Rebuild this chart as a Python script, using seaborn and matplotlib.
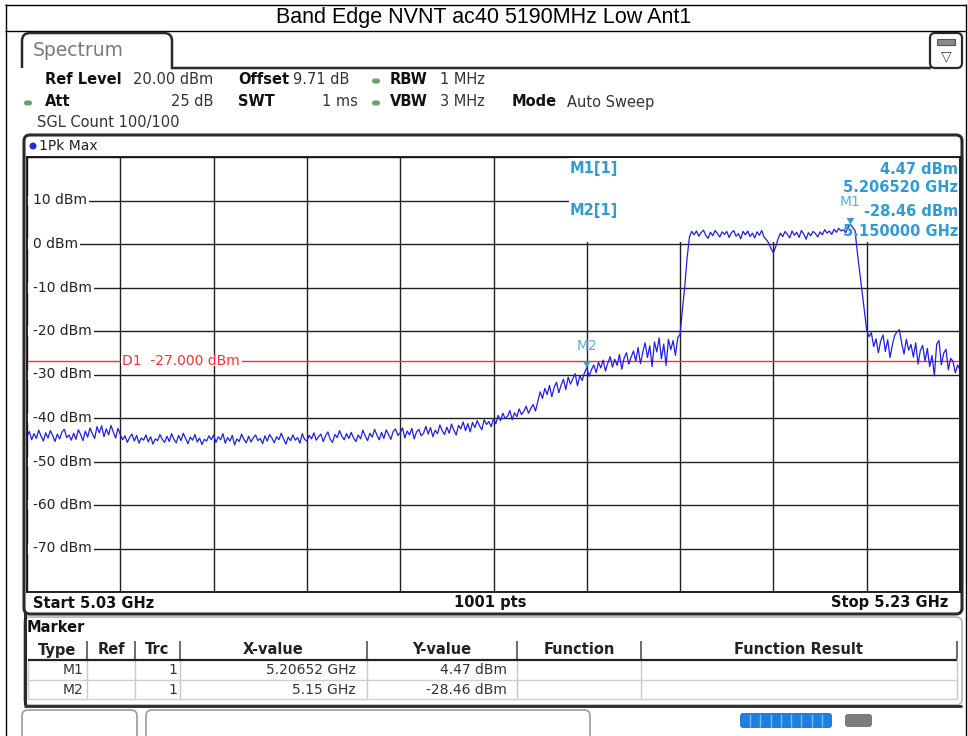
import numpy as np
import pandas as pd
import matplotlib
matplotlib.use("Agg")
import matplotlib.pyplot as plt
import seaborn as sns
from matplotlib.patches import FancyBboxPatch, Rectangle, Ellipse, PathPatch
from matplotlib.path import Path
from matplotlib.markers import MarkerStyle

# ---------------------------------------------------------------- data
title = "Band Edge NVNT ac40 5190MHz Low Ant1"
start_ghz, stop_ghz = 5.03, 5.23

# 1Pk Max trace, one reading per 0.5 MHz from 5.030 to 5.230 GHz (dBm)
trace_dbm = [
    # 5.030 - 5.040
    -44.2, -43.1, -45.0, -43.6, -44.7, -42.8, -44.1, -45.3, -43.4, -44.6,
    -42.9, -44.0, -45.4, -43.7, -44.8, -43.2, -42.6, -44.5, -43.9, -45.1,
    # 5.040 - 5.050
    -43.5, -44.9, -42.7, -43.8, -45.2, -43.0, -44.4, -42.3, -43.6, -44.7,
    -42.0, -43.4, -41.8, -44.3, -42.5, -43.9, -41.7, -43.2, -44.6, -42.4,
    # 5.050 - 5.060
    -43.8, -45.0, -44.1, -45.6, -44.5, -43.7, -45.3, -44.0, -45.8, -44.6,
    -45.1, -43.9, -45.5, -44.3, -46.0, -44.8, -45.2, -43.8, -44.9, -45.6,
    # 5.060 - 5.070
    -44.2, -45.4, -43.6, -44.9, -45.7, -44.0, -45.2, -43.5, -44.7, -45.9,
    -44.4, -45.1, -43.8, -45.5, -44.6, -46.1, -44.9, -45.3, -44.1, -45.0,
    # 5.070 - 5.080
    -43.9, -45.6, -44.3, -45.0, -43.6, -45.8, -44.5, -45.3, -44.0, -46.2,
    -44.8, -45.4, -43.7, -44.9, -45.7, -44.2, -45.5, -44.6, -43.9, -45.2,
    # 5.080 - 5.090
    -44.7, -45.9, -44.1, -45.3, -43.8, -44.6, -45.7, -44.3, -45.0, -43.5,
    -44.8, -46.0, -44.4, -45.2, -43.9, -45.1, -44.5, -45.8, -43.6, -44.9,
    # 5.090 - 5.100
    -45.3, -44.0, -44.8, -43.4, -45.1, -44.3, -43.7, -45.4, -44.1, -43.2,
    -44.9, -45.6, -43.8, -44.5, -42.9, -44.2, -45.0, -43.6, -44.7, -43.3,
    # 5.100 - 5.110
    -44.6, -45.4, -43.9, -44.8, -42.8, -44.1, -45.2, -43.5, -44.4, -42.6,
    -43.9, -45.0, -43.3, -44.7, -42.7, -43.8, -44.9, -43.1, -42.5, -44.0,
    # 5.110 - 5.120
    -43.4, -42.3, -44.6, -43.0, -43.9, -42.4, -44.8, -43.2, -42.6, -44.1,
    -43.5, -41.9, -43.7, -42.2, -44.3, -42.8, -43.6, -41.6, -42.9, -43.8,
    # 5.120 - 5.130
    -42.1, -43.5, -41.4, -42.8, -43.9, -41.7, -42.5, -40.9, -42.9, -41.3,
    -43.2, -41.0, -42.2, -40.6, -41.8, -42.7, -40.4, -41.5, -40.8, -42.0,
    # 5.130 - 5.140
    -40.2, -41.3, -39.4, -40.6, -38.9, -40.1, -39.6, -38.3, -40.4, -38.8,
    -39.7, -37.9, -39.2, -38.5, -37.3, -38.9, -37.8, -36.9, -38.4, -36.2,
    # 5.140 - 5.150
    -34.0, -35.5, -33.2, -34.6, -32.5, -35.1, -33.0, -31.8, -34.2, -32.4,
    -31.1, -33.5, -30.6, -32.2, -31.0, -29.8, -32.6, -30.3, -31.4, -29.6,
    # 5.150 - 5.160
    -28.46, -30.4, -28.9, -27.8, -29.6, -27.2, -28.5, -26.7, -29.2, -27.4,
    -25.9, -28.3, -26.5, -27.9, -25.4, -28.8, -26.2, -25.0, -27.6, -26.0,
    # 5.160 - 5.170
    -24.6, -26.9, -23.8, -27.5, -24.9, -22.7, -26.1, -23.4, -28.2, -22.5,
    -24.8, -21.6, -26.4, -23.0, -27.9, -21.9, -24.3, -22.2, -25.6, -21.5,
    # 5.170 - 5.180
    -20.8, -15.0, -9.8, -3.2, 1.6, 2.9, 2.1, 3.0, 1.8, 2.6,
    3.2, 2.0, 1.3, 2.7, 1.9, 3.1, 2.4, 1.6, 2.8, 2.2,
    # 5.180 - 5.190
    2.9, 1.5, 2.6, 3.1, 1.8, 2.4, 1.2, 2.9, 2.1, 3.0,
    1.7, 2.5, 1.4, 2.8, 2.0, 3.1, 1.6, 1.0, 0.2, -1.1,
    # 5.190 - 5.200
    -2.0, -0.6, 1.2, 2.5, 1.7, 2.9, 2.2, 1.4, 3.0, 2.0,
    2.7, 1.5, 3.1, 2.3, 1.1, 2.6, 1.9, 2.9, 2.4, 1.6,
    # 5.200 - 5.210
    2.8, 2.1, 3.3, 2.5, 3.0, 2.2, 3.4, 2.7, 3.6, 3.0,
    3.3, 2.6, 3.9, 4.3, 3.8, 3.1, -2.0, -6.5, -11.0, -15.5,
    # 5.210 - 5.220
    -19.8, -21.3, -20.4, -23.6, -21.8, -25.0, -22.3, -20.9, -24.7, -22.0,
    -26.1, -23.2, -21.0, -20.2, -19.7, -22.8, -25.3, -21.9, -24.4, -23.1,
    # 5.220 - 5.230
    -26.0, -22.7, -27.6, -24.5, -23.3, -26.9, -24.0, -28.2, -25.6, -30.3,
    -23.0, -22.2, -27.8, -25.1, -24.2, -28.9, -26.3, -27.0, -29.6, -27.8,
    -29.0,
]

marker_names = ["M1", "M2"]
marker_freq_ghz = [5.20652, 5.15]
marker_level_dbm = [4.47, -28.46]
display_line_dbm = -27.0
level_labels = [10, 0, -10, -20, -30, -40, -50, -60, -70]
ref_level_dbm, bottom_level_dbm = 20, -80

# ---------------------------------------------------------------- style
sns.set_style("white")
plt.rcParams["font.family"] = ["DejaVu Sans"]

W, H = 968, 736
fig = plt.figure(figsize=(W / 100, H / 100), dpi=100)
fig.patch.set_facecolor("white")

# pixel canvas for the instrument frame
bg = fig.add_axes([0, 0, 1, 1])
bg.set_xlim(0, W)
bg.set_ylim(H, 0)
bg.axis("off")
PX = bg.transData

DARK = "#2a2a2a"
MK = "#2f9cd8"


def hline(x0, x1, y, c=DARK, lw=1.0, ax=bg, z=2):
    ax.plot([x0, x1], [y, y], color=c, lw=lw, transform=PX, zorder=z,
            clip_on=False, solid_capstyle="butt")


def vline(x, y0, y1, c=DARK, lw=1.0, ax=bg, z=2):
    ax.plot([x, x], [y0, y1], color=c, lw=lw, transform=PX, zorder=z,
            clip_on=False, solid_capstyle="butt")


def txt(x, y, s, ax=bg, size=10.5, weight="normal", color="#111111",
        ha="left", z=5, **kw):
    return ax.text(x, y, s, transform=PX, fontsize=size, fontweight=weight,
                   color=color, ha=ha, va="center", zorder=z, clip_on=False, **kw)


def rbox(x0, y0, x1, y1, ec=DARK, lw=1.5, fc="none", r=6, z=1):
    bg.add_patch(FancyBboxPatch((x0, y0), x1 - x0, y1 - y0,
                                boxstyle=f"round,pad=0,rounding_size={r}",
                                ec=ec, fc=fc, lw=lw, zorder=z))


def pill(x, y, c="#6f9c6f"):
    bg.add_patch(FancyBboxPatch((x - 4, y - 2.5), 8, 5,
                                boxstyle="round,pad=0,rounding_size=2.5",
                                ec="none", fc=c, zorder=3))


# title cell
hline(5, 966, 4.5, c="#000000", lw=1)
hline(5, 966, 30.5, c="#000000", lw=1)
vline(5.5, 4, 736, c="#000000", lw=1)
vline(966, 4, 736, c="#000000", lw=1)
bg.text(484, 18, title, transform=PX, fontsize=15.5, ha="center", va="center",
        family=["Liberation Sans", "DejaVu Sans"], color="#000000")

# Spectrum tab and info block
tab = Path([(22, 68), (22, 41), (22, 33), (30, 33), (164, 33), (172, 33),
            (172, 41), (172, 68), (931, 68)],
           [Path.MOVETO, Path.LINETO, Path.CURVE3, Path.CURVE3, Path.LINETO,
            Path.CURVE3, Path.CURVE3, Path.LINETO, Path.LINETO])
bg.add_patch(PathPatch(tab, fc="none", ec=DARK, lw=1.8, zorder=2))
txt(33, 51, "Spectrum", size=13.5, color="#7a7a7a")
rbox(930, 33, 962, 68, lw=1.6, r=5)
bg.add_patch(Rectangle((937, 39), 18, 6, fc="#8a8a8a", ec="#555555", lw=0.8, zorder=3))
txt(946, 56, "\u25bd", size=10, ha="center", color="#444444")

txt(45, 80, "Ref Level", weight="bold")
txt(213, 80, "20.00 dBm", ha="right", color="#333333")
txt(238, 80, "Offset", weight="bold")
txt(293, 80, "9.71 dB", color="#333333")
pill(376, 81)
txt(390, 80, "RBW", weight="bold")
txt(440, 80, "1 MHz", color="#333333")
pill(28, 103)
txt(45, 102, "Att", weight="bold")
txt(213, 102, "25 dB", ha="right", color="#333333")
txt(238, 102, "SWT", weight="bold")
txt(358, 102, "1 ms", ha="right", color="#333333")
pill(376, 103)
txt(390, 102, "VBW", weight="bold")
txt(440, 102, "3 MHz", color="#333333")
txt(512, 102, "Mode", weight="bold")
txt(567, 102, "Auto Sweep", color="#333333")
txt(37, 123, "SGL Count 100/100", color="#333333")

# diagram panel
rbox(24, 135, 962, 614, lw=2.2, r=6)
bg.add_patch(Ellipse((33, 146), 7, 7, fc="#2b2bd9", ec="none", zorder=3))
txt(39, 146, "1Pk Max", size=10, color="#222222")
txt(33, 603, "Start 5.03 GHz", weight="bold")
txt(490, 603, "1001 pts", weight="bold", ha="center")
txt(948, 603, "Stop 5.23 GHz", weight="bold", ha="right")

# marker table panel
rbox(24, 617, 962, 705, ec="#b5b5b5", lw=1.2, r=6)
vline(24.5, 612, 705, lw=2.2)
hline(24, 962, 705.5, lw=2.0)
txt(27, 627, "Marker", weight="bold")
cols = [28, 87, 135, 180, 367, 517, 641, 957]
heads = ["Type", "Ref", "Trc", "X-value", "Y-value", "Function", "Function Result"]
for x in cols[1:]:
    vline(x, 641, 659, c="#555555", lw=1.2)
for x in cols:
    vline(x, 659, 699, c="#c8c8c8", lw=1)
hline(28, 957, 659.5, c="#222222", lw=1.6)
hline(28, 957, 679.5, c="#cfcfcf", lw=1)
hline(28, 957, 699, c="#cfcfcf", lw=1)
for i, h in enumerate(heads):
    txt((cols[i] + cols[i + 1]) / 2, 650, h, weight="bold", ha="center", color="#222222")
rows = [
    (marker_names[0], "1", f"{marker_freq_ghz[0]:.5f} GHz", f"{marker_level_dbm[0]:.2f} dBm"),
    (marker_names[1], "1", f"{marker_freq_ghz[1]:.2f} GHz", f"{marker_level_dbm[1]:.2f} dBm"),
]
for r, (name, trc, xv, yv) in enumerate(rows):
    y = 670 + r * 20
    txt(83, y, name, ha="right", size=10, color="#333333")
    txt(177, y, trc, ha="right", size=10, color="#333333")
    txt(356, y, xv, ha="right", size=10, color="#333333")
    txt(507, y, yv, ha="right", size=10, color="#333333")

# soft keys / status bar
rbox(22, 710, 137, 745, ec="#9a9a9a", lw=1.2, r=6)
rbox(146, 710, 590, 745, ec="#9a9a9a", lw=1.2, r=6)
rbox(740, 713, 832, 728, ec="none", fc="#1f7fe0", lw=0, r=3, z=2)
for x in np.linspace(750, 822, 8):
    vline(x, 714, 727, c="#7fb8f0", lw=1, z=3)
rbox(845, 714, 872, 727, ec="none", fc="#7c7c7c", lw=0, r=3, z=2)

# ---------------------------------------------------------------- diagram
ax = fig.add_axes([27 / W, 1 - 592 / H, 933 / W, 435 / H])
ax.set_facecolor("white")

freq = np.linspace(start_ghz, stop_ghz, len(trace_dbm))
trace = pd.DataFrame({"freq": freq, "level": trace_dbm})
markers = pd.DataFrame({"name": marker_names, "freq": marker_freq_ghz,
                        "level": marker_level_dbm})
curve = (pd.concat([trace, markers[["freq", "level"]]])
         .sort_values("freq").reset_index(drop=True))

sns.lineplot(data=curve, x="freq", y="level", ax=ax, color="#1f1fe6", lw=0.9,
             estimator=None, sort=False, zorder=4)

ax.set_xlim(start_ghz, stop_ghz)
ax.set_ylim(bottom_level_dbm, ref_level_dbm)
ax.set_xticks(np.linspace(start_ghz, stop_ghz, 11))
ax.set_yticks(np.arange(bottom_level_dbm, ref_level_dbm + 1, 10))
ax.tick_params(length=0, labelbottom=False, labelleft=False)
ax.set_axisbelow(True)
ax.grid(True, color="#202020", lw=1.0)
for s in ax.spines.values():
    s.set_color("#111111")
    s.set_linewidth(1.3)
    s.set_zorder(10)

# marker readout area keeps the grid clear above 0 dBm
ax.add_patch(Rectangle((5.1462, 0.35), stop_ghz - 5.1462, 19.5, fc="white",
                       ec="none", zorder=1))

ylabels = [ax.text(start_ghz + 0.0013, v, f"{v} dBm", fontsize=10,
                   color="#222222", ha="left", va="center", zorder=1.6)
           for v in level_labels]
ax.axhline(display_line_dbm, color="#ff2a2a", lw=1.0, zorder=3)
d1 = ax.text(5.0504, display_line_dbm, f"D1  {display_line_dbm:.3f} dBm",
             fontsize=10, color="#ff3030", ha="left", va="center", zorder=3.6)

# white gaps behind the level labels, the grid resumes right after the text
fig.canvas.draw()
rend = fig.canvas.get_renderer()
inv = ax.transData.inverted()
for t, left, z in [(t, start_ghz, 1.5) for t in ylabels] + [(d1, None, 3.5)]:
    bb = t.get_window_extent(rend)
    (x0, y0), (x1, y1) = inv.transform([(bb.x0 - 1, bb.y0 + 2), (bb.x1 + 2, bb.y1 - 2)])
    if left is not None:
        x0 = left
    ax.add_patch(Rectangle((x0, y0), x1 - x0, y1 - y0, fc="white", ec="none",
                           zorder=z))

tip = MarkerStyle(Path([(-1, 1.7), (1, 1.7), (0, 0), (-1, 1.7)]))
sns.scatterplot(data=markers, x="freq", y="level", ax=ax, marker=tip, s=90,
                color=MK, edgecolor="none", zorder=6, legend=False)
for _, m in markers.iterrows():
    ax.annotate(m["name"], (m["freq"], m["level"]), xytext=(0, 16),
                textcoords="offset points", ha="center", va="center",
                fontsize=10, color="#5aaee0", zorder=6)
ax.set_xlabel("")
ax.set_ylabel("")

# marker readout
txt(570, 169, f"{marker_names[0]}[1]", ax=ax, weight="bold", color=MK, z=7)
txt(958, 169, f"{marker_level_dbm[0]:.2f} dBm", ax=ax, weight="bold", color=MK, ha="right", z=7)
txt(958, 188, f"{marker_freq_ghz[0]:.6f} GHz", ax=ax, weight="bold", color=MK, ha="right", z=7)
txt(570, 211, f"{marker_names[1]}[1]", ax=ax, weight="bold", color=MK, z=7)
txt(958, 211, f"{marker_level_dbm[1]:.2f} dBm", ax=ax, weight="bold", color=MK, ha="right", z=7)
txt(958, 231, f"{marker_freq_ghz[1]:.6f} GHz", ax=ax, weight="bold", color=MK, ha="right", z=7)

fig.savefig("out.png", dpi=100)
